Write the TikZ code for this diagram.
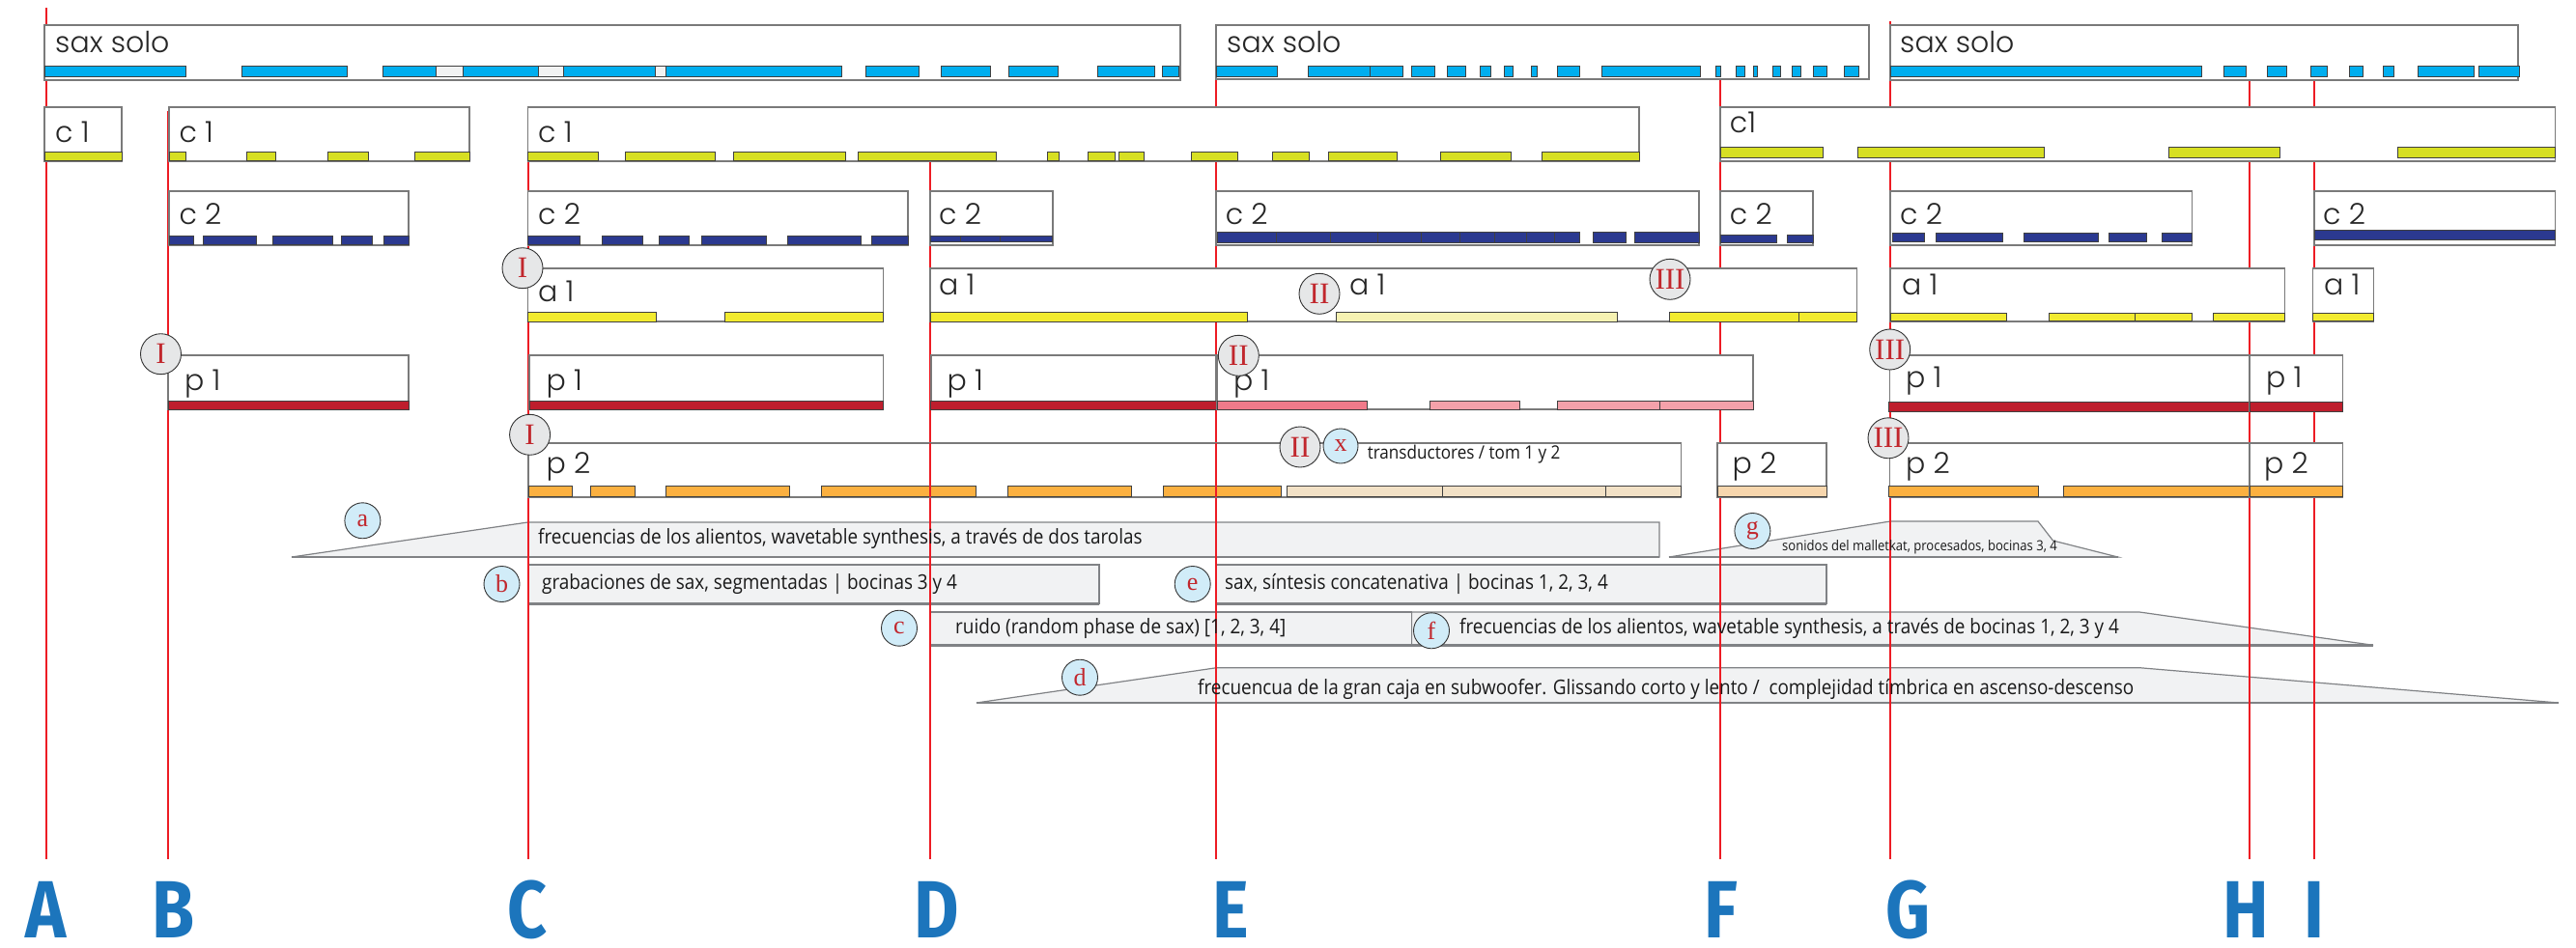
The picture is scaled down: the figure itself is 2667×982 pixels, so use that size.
\documentclass[tikz,border=0pt]{standalone}
\usepackage{fontspec}
\newfontfamily\labfont{Poppins Light}
\newfontfamily\annfont{Open Sans}[FakeStretch=0.9]
\newfontfamily\romfont{Liberation Serif}
\newfontfamily\letfont{Fira Sans}[FakeStretch=0.85]
\definecolor{saxblue}{HTML}{00AEEF}
\definecolor{segwhite}{HTML}{F1F2F2}
\definecolor{cyellow}{HTML}{D7DF23}
\definecolor{cnavy}{HTML}{2B3990}
\definecolor{ayellow}{HTML}{F2EB2F}
\definecolor{apale}{HTML}{F6F2B2}
\definecolor{pred}{HTML}{BE1E2D}
\definecolor{ppink}{HTML}{F07A8A}
\definecolor{ppinklt}{HTML}{F4A1AA}
\definecolor{porange}{HTML}{FBB040}
\definecolor{ppale}{HTML}{F2E1C6}
\definecolor{ppeach}{HTML}{F7D6AD}
\definecolor{annfill}{HTML}{F1F2F3}
\definecolor{anndraw}{HTML}{808285}
\definecolor{boxdraw}{HTML}{7A7A7A}
\definecolor{redline}{HTML}{ED1C24}
\definecolor{letblue}{HTML}{1C75BC}
\definecolor{badgegray}{HTML}{E6E7E8}
\definecolor{badgeblue}{HTML}{D1ECF8}
\definecolor{numred}{HTML}{C1272D}
\newcommand\mybars[4]{\foreach \p/\q in {#4}{\draw[bar,fill=#1] (\p,#2) rectangle (\q,#3);}}
\tikzset{
  boxx/.style={draw=boxdraw, line width=1.4pt, fill=white},
  bar/.style={draw=black!75, line width=0.9pt},
  lab/.style={anchor=base west, inner sep=0pt, font=\labfont\fontsize{30}{30}\selectfont, text=black!85},
  ann/.style={anchor=base west, inner sep=0pt, font=\annfont\fontsize{21}{21}\selectfont, text=black!90},
  rline/.style={draw=redline, line width=1.3pt},
  rom/.style={circle, draw=black!80, line width=0.9pt, fill=badgegray, minimum size=42pt, inner sep=0pt, font=\romfont\fontsize{31}{31}\selectfont, text=numred},
  ltr/.style={circle, draw=black!80, line width=0.9pt, fill=badgeblue, minimum size=37pt, inner sep=0pt, font=\romfont\fontsize{26}{26}\selectfont, text=numred},
  bigl/.style={anchor=base, inner sep=0pt, font=\letfont\bfseries\fontsize{84}{84}\selectfont, text=letblue},
  annshape/.style={fill=annfill, draw=anndraw, line width=1.2pt},
  annbot/.style={draw=anndraw, line width=2.6pt}
}
\begin{document}
\begin{tikzpicture}[x=1pt,y=-1pt]
\useasboundingbox (0,0) rectangle (2667,982);
% red lines (behind)
\foreach \x/\t in {48/8,174/115,547/111,963/111,1259/26,1781/83,1957/22,2329/83,2396/83}{\draw[rline] (\x,\t) -- (\x,890);}
% ---------- row 1: sax solo
\draw[boxx] (46,26) rectangle (1222,83);
\mybars{saxblue}{68.5}{79}{46/192,250/359,396/451,479/557,583/678,689/871,896/951,974/1025,1044/1095,1136/1195,1203/1220}
\mybars{segwhite}{68.5}{79}{451/479,557/583,678/689}
\node[lab] (s1) at (57,55) {sax solo};
\draw[boxx] (1259,26) rectangle (1935,82);
\mybars{saxblue}{68.5}{79}{1259/1322,1354/1418,1418/1452,1461.5/1485.6,1498/1517,1532/1543,1557/1566,1585/1591,1612.5/1635,1658/1760,1776.7/1781.7,1797.7/1806.7,1815/1819.3,1835.3/1843.3,1855.3/1864,1877.7/1891.7,1909.3/1924}
\node[lab] (s2) at (1270,55) {sax solo};
\draw[boxx] (1957,26) rectangle (2607,83);
\mybars{saxblue}{68.5}{79}{1957/2279,2302/2325,2347/2367,2392/2409.5,2432/2446,2467/2478,2503/2561,2566/2608}
\node[lab] (s3) at (1967,55) {sax solo};
% ---------- row 2: c1
\draw[boxx] (46,111) rectangle (126,167);
\mybars{cyellow}{157}{166.5}{46/126}
\node[lab] (c1a) at (57,147.7) {c 1};
\draw[boxx] (175,111) rectangle (486,167);
\mybars{cyellow}{157}{166.5}{175/192,255/285,339/381,429/486}
\node[lab] (c1b) at (185.4,147.7) {c 1};
\draw[boxx] (546.5,111) rectangle (1697,167);
\mybars{cyellow}{157}{166.5}{546.5/619,647.5/740,759.5/875,888.5/1031.5,1084/1096,1126/1154,1158/1184,1233/1281,1317/1355,1375/1446,1491/1564,1596/1697}
\node[lab] (c1c) at (557,147.7) {c 1};
\draw[boxx] (1781,111) rectangle (2645.5,167);
\mybars{cyellow}{152.3}{163.3}{1781/1887,1923/2116,2245/2360,2482/2645.5}
\node[lab] (c1f) at (1790.7,137.3) {c1};
% ---------- row 3: c2
\draw[boxx] (175,198) rectangle (423,254);
\mybars{cnavy}{244.3}{253.3}{175/200,210/265,282/344,353/385,397/423}
\node[lab] (c2b) at (185.4,232.3) {c 2};
\draw[boxx] (546.5,198) rectangle (940,254);
\mybars{cnavy}{244.3}{253.3}{546.5/600.5,623/665,682/713,726/793,815/891.5,902/940}
\node[lab] (c2c) at (557,232.3) {c 2};
\draw[boxx] (963,198) rectangle (1090,254);
\mybars{cnavy}{244}{250}{963/994,994/1035,1035/1089}
\node[lab] (c2d) at (972,232.3) {c 2};
\draw[boxx] (1259,198) rectangle (1759,254);
\mybars{cnavy}{240}{251.7}{1260/1321.5,1321.5/1377,1377/1426.5,1426.5/1471,1471/1511.5,1511.5/1547.6,1547.6/1580,1580/1609,1609/1635.5,1649/1683,1692/1759}
\node[lab] (c2e) at (1268.6,232.3) {c 2};
\draw[boxx] (1781,198) rectangle (1877,254);
\mybars{cnavy}{243}{251}{1781/1839,1850/1877}
\node[lab] (c2f) at (1790.7,232.3) {c 2};
\draw[boxx] (1957,198) rectangle (2269.5,254);
\mybars{cnavy}{241}{250}{1959/1992.5,2004.6/2073,2095/2172,2183/2222,2238/2269.5}
\node[lab] (c2g) at (1967,232.3) {c 2};
\draw[boxx] (2396,198) rectangle (2645.5,254);
\mybars{cnavy}{238}{248.3}{2396/2645.5}
\node[lab] (c2i) at (2405,232.3) {c 2};
% ---------- row 4: a1
\draw[boxx] (546.5,278) rectangle (914.4,333);
\mybars{ayellow}{323}{333}{546.5/679,750/914.4}
\node[lab] (a1c) at (557,312.7) {a 1};
\draw[boxx] (963,278) rectangle (1922.5,333);
\mybars{ayellow}{323}{333}{963/1291,1728.5/1862,1862/1922.5}
\mybars{apale}{323}{333}{1383.5/1674}
\node[lab] (a1d) at (972,305) {a 1};
\node[lab] (a1e) at (1397,305) {a 1};
\draw[boxx] (1957,278) rectangle (2365.6,333);
\mybars{ayellow}{324}{332.7}{1957/2077.5,2121.5/2210,2210/2269.5,2291/2365.6}
\node[lab] (a1g) at (1969,305) {a 1};
\draw[boxx] (2394.5,278) rectangle (2457.5,333);
\mybars{ayellow}{324}{332.7}{2394.5/2457.5}
\node[lab] (a1i) at (2406,305) {a 1};
% ---------- row 5: p1
\draw[boxx] (174,368) rectangle (423,424);
\mybars{pred}{415}{424}{174/423}
\node[lab] (p1b) at (191,404) {p 1};
\draw[boxx] (548,368) rectangle (914.4,424);
\mybars{pred}{415}{424}{548/914.4}
\node[lab] (p1c) at (565.5,404) {p 1};
\draw[boxx] (963.8,368) rectangle (1259,424);
\mybars{pred}{415}{424}{963.8/1259}
\node[lab] (p1d) at (980.5,404) {p 1};
\draw[boxx] (1260,368) rectangle (1815,424);
\mybars{ppink}{415}{424}{1260/1415.6}
\mybars{ppinklt}{415}{424}{1480/1573,1612/1718,1718/1815}
\node[lab] (p1e) at (1277,404) {p 1};
\draw[boxx] (1956.7,368) rectangle (2329,426.7);
\mybars{pred}{416}{426.7}{1955.5/2329}
\node[lab] (p1g) at (1973,401) {p 1};
\draw[boxx] (2329,368) rectangle (2425.7,426.7);
\mybars{pred}{416}{426.7}{2329/2425.7}
\node[lab] (p1h) at (2346,401) {p 1};
% ---------- row 6: p2
\draw[boxx] (547,459) rectangle (1740.5,515);
\mybars{porange}{503.3}{514}{547/592,611/657,689.5/817.5,850/1010,1043.6/1171.6,1204/1326}
\mybars{ppale}{503.3}{514}{1332/1493,1493/1662.5,1662.5/1740.5}
\node[lab] (p2c) at (565.5,490.7) {p 2};
\node[ann,font=\annfont\fontsize{19}{19}\selectfont] (tr) at (1415.6,475) {transductores / tom 1 y 2};
\draw[boxx] (1778,459) rectangle (1891,515);
\mybars{ppeach}{503.3}{514}{1778/1891}
\node[lab] (p2f) at (1793.5,490.7) {p 2};
\draw[boxx] (1956.7,459) rectangle (2329,515);
\mybars{porange}{503.3}{514}{1955.5/2110,2136.5/2329}
\node[lab] (p2g) at (1973,490.7) {p 2};
\draw[boxx] (2329,459) rectangle (2425.7,515);
\mybars{porange}{503.3}{514}{2329/2425.7}
\node[lab] (p2h) at (2344,490.7) {p 2};
% red lines over p2
\foreach \x in {963,1259}{\draw[rline] (\x,459) -- (\x,515);}
% ---------- annotations
\draw[annshape] (302,577) -- (546.5,541) -- (1718,541) -- (1718,577) -- cycle;
\draw[annbot] (302,577) -- (1718,577);
\draw[annshape] (547,585) rectangle (1138,625.7);
\draw[annbot] (547,625.7) -- (1138,625.7);
\draw[annshape] (1259,585) rectangle (1891,625.7);
\draw[annbot] (1259,625.7) -- (1891,625.7);
\draw[annshape] (1728,577) -- (1957,540) -- (2110,540) -- (2125.5,560) -- (2192.6,577) -- cycle;
\draw[annbot] (1728,577) -- (2192.6,577);
\draw[annshape] (963,634) rectangle (1461.6,668.3);
\draw[annbot] (963,668.3) -- (1461.6,668.3);
\draw[annshape] (1461.6,634) -- (2215,634) -- (2457,668.3) -- (1461.6,668.3) -- cycle;
\draw[annbot] (1461.6,668.3) -- (2457,668.3);
\draw[annshape] (1011,728) -- (1259.6,691.7) -- (2215,691.7) -- (2649,728) -- cycle;
\draw[annbot] (1011,728) -- (2649,728);
% red lines over annotations
\foreach \x in {547,963,1259,1781,1957,2329,2396}{\draw[rline] (\x,530) -- (\x,890);}
% annotation texts
\node[ann] (ta) at (557,563) {frecuencias de los alientos, wavetable synthesis, a través de dos tarolas};
\node[ann] (tb) at (561,610) {grabaciones de sax, segmentadas | bocinas 3 y 4};
\node[ann] (te) at (1268,610) {sax, síntesis concatenativa | bocinas 1, 2, 3, 4};
\node[ann,font=\annfont\fontsize{14.5}{14.5}\selectfont] (tg) at (1845,570) {sonidos del malletkat, procesados, bocinas 3, 4};
\node[ann] (tc) at (989,656) {ruido (random phase de sax) [1, 2, 3, 4]};
\node[ann] (tf) at (1511,656) {frecuencias de los alientos, wavetable synthesis, a través de bocinas 1, 2, 3 y 4};
\node[ann] (td) at (1240,719) {frecuencua de la gran caja en subwoofer. Glissando corto y lento /\ \ complejidad tímbrica en ascenso-descenso};
% ---------- badges
\node[rom] (r1) at (541,277.7) {I};
\node[rom] (r2) at (166.5,366.7) {I};
\node[rom] (r3) at (548.6,450.3) {I};
\node[rom] (r4) at (1366,304.3) {II};
\node[rom] (r5) at (1729,289.3) {III};
\node[rom] (r6) at (1282.3,368.3) {II};
\node[rom] (r7) at (1346,463) {II};
\node[rom] (r8) at (1956.7,362) {III};
\node[rom] (r9) at (1955,453.8) {III};
\node[ltr,minimum size=36pt] (lx) at (1388,462) {x};
\node[ltr] (la) at (375.4,539.3) {a};
\node[ltr] (lb) at (519.5,605) {b};
\node[ltr] (lc) at (931,650.7) {c};
\node[ltr] (ld) at (1118,701.7) {d};
\node[ltr] (le) at (1234.7,605) {e};
\node[ltr] (lf) at (1482,653.3) {f};
\node[ltr] (lg) at (1814.4,550) {g};
% ---------- bottom letters
\foreach \x/\l in {48/A,180/B,546/C,970/D,1274/E,1782/F,1976/G,2325/H,2396/I}{\node[bigl] (L\l) at (\x,971) {\l};}
\end{tikzpicture}
\end{document}
